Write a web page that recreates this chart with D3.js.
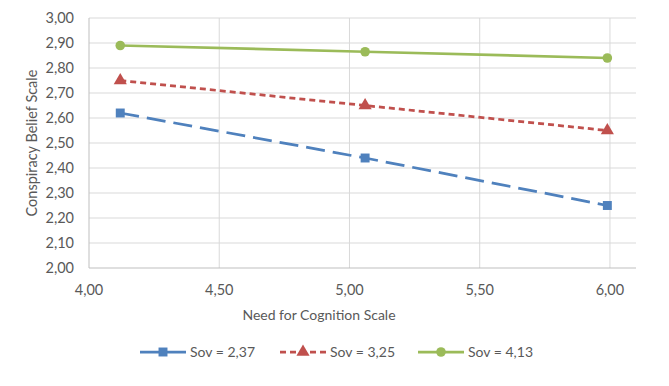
<!DOCTYPE html>
<html>
<head>
<meta charset="utf-8">
<script src="https://cdn.jsdelivr.net/npm/d3@7.9.0/dist/d3.min.js"></script>
<style>
  body { margin: 0; background: #fff; }
  svg text { font-family: Lato, "Open Sans", sans-serif; fill: #595959; }
</style>
</head>
<body>
<svg id="chart" width="669" height="386"></svg>
<script>
// values
const xValues = [4.12, 5.06, 5.99];
const seriesNames = ['Sov = 2,37', 'Sov = 3,25', 'Sov = 4,13'];
const lowSov = [2.62, 2.44, 2.25];
const midSov = [2.75, 2.65, 2.55];
const highSov = [2.89, 2.865, 2.84];
const xTicks = [4, 4.5, 5, 5.5, 6];
const yTicks = [2, 2.1, 2.2, 2.3, 2.4, 2.5, 2.6, 2.7, 2.8, 2.9, 3];

const series = [
  { name: seriesNames[0], values: lowSov, color: '#4f81bd', dash: '19,8', marker: d3.symbolSquare, size: 80 },
  { name: seriesNames[1], values: midSov, color: '#c0504d', dash: '6,4', marker: d3.symbolTriangle, size: 75 },
  { name: seriesNames[2], values: highSov, color: '#9bbb59', dash: null, marker: d3.symbolCircle, size: 72 }
];

const svg = d3.select('#chart');
const fmt = v => d3.format('.2f')(v).replace('.', ',');

const x = d3.scaleLinear().domain([4, 6.1]).range([89, 636]);
const y = d3.scaleLinear().domain([2, 3]).range([268, 18]);

// gridlines
svg.append('g').selectAll('line').data(yTicks.slice(1)).join('line')
  .attr('x1', x(4)).attr('x2', x(6.1))
  .attr('y1', d => y(d)).attr('y2', d => y(d))
  .attr('stroke', '#d9d9d9').attr('stroke-width', 1);
svg.append('g').selectAll('line').data(xTicks.slice(1)).join('line')
  .attr('x1', d => x(d)).attr('x2', d => x(d))
  .attr('y1', y(2)).attr('y2', y(3))
  .attr('stroke', '#d9d9d9').attr('stroke-width', 1);

// axis lines
svg.append('line').attr('x1', x(4)).attr('x2', x(4)).attr('y1', y(2)).attr('y2', y(3))
  .attr('stroke', '#bfbfbf');
svg.append('line').attr('x1', x(4)).attr('x2', x(6.1)).attr('y1', y(2)).attr('y2', y(2))
  .attr('stroke', '#bfbfbf');

// tick labels
svg.append('g').selectAll('text').data(yTicks).join('text')
  .attr('x', 74).attr('y', d => y(d)).attr('dy', '0.35em')
  .attr('text-anchor', 'end').attr('font-size', 14.5)
  .text(fmt);
svg.append('g').selectAll('text').data(xTicks).join('text')
  .attr('x', d => x(d)).attr('y', 290).attr('dy', '0.35em')
  .attr('text-anchor', 'middle').attr('font-size', 14.5)
  .text(fmt);

// axis titles
svg.append('text').attr('x', 319).attr('y', 315).attr('dy', '0.35em')
  .attr('text-anchor', 'middle').attr('font-size', 14)
  .text('Need for Cognition Scale');
svg.append('text').attr('transform', 'translate(32,143) rotate(-90)').attr('dy', '0.35em')
  .attr('text-anchor', 'middle').attr('font-size', 14.5)
  .text('Conspiracy Belief Scale');

// lines + markers
const line = d3.line().x((d, i) => x(xValues[i])).y(d => y(d));
series.forEach(s => {
  svg.append('path').attr('d', line(s.values))
    .attr('fill', 'none').attr('stroke', s.color).attr('stroke-width', 2.75)
    .attr('stroke-dasharray', s.dash);
  svg.append('g').selectAll('path').data(s.values).join('path')
    .attr('transform', (d, i) => `translate(${x(xValues[i])},${y(d)})`)
    .attr('d', d3.symbol().type(s.marker).size(s.size))
    .attr('fill', s.color);
});

// legend
const legendX = [140, 280, 418];
series.forEach((s, i) => {
  const g = svg.append('g').attr('transform', `translate(${legendX[i]},352)`);
  g.append('line').attr('x1', 0).attr('x2', 46).attr('y1', 0).attr('y2', 0)
    .attr('stroke', s.color).attr('stroke-width', 2.75).attr('stroke-dasharray', s.dash);
  g.append('path').attr('transform', 'translate(23,0)')
    .attr('d', d3.symbol().type(s.marker).size(s.size)).attr('fill', s.color);
  g.append('text').attr('x', 50).attr('y', 0).attr('dy', '0.35em')
    .attr('font-size', 14).text(s.name);
});
</script>
</body>
</html>
